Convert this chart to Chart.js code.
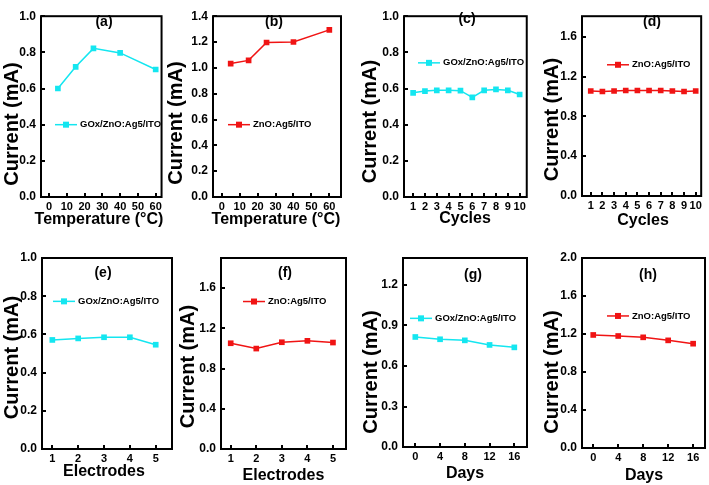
<!DOCTYPE html>
<html>
<head>
<meta charset="utf-8">
<script src="https://cdn.jsdelivr.net/npm/chart.js@4"></script>
<style>
  html, body { margin: 0; padding: 0; background: #fff; }
  #wrap { position: relative; width: 709px; height: 485px; overflow: hidden; }
  #wrap canvas { position: absolute; }
</style>
</head>
<body>
<div id="wrap"></div>
<script>
// data
const tempC = [5, 15, 25, 40, 60];
const tempGox = [0.60, 0.72, 0.822, 0.797, 0.705];
const tempZno = [1.033, 1.058, 1.196, 1.2, 1.294];

const cycles = [1, 2, 3, 4, 5, 6, 7, 8, 9, 10];
const cycGox = [0.576, 0.586, 0.59, 0.59, 0.588, 0.551, 0.59, 0.595, 0.59, 0.567];
const cycZno = [1.055, 1.05, 1.055, 1.06, 1.06, 1.06, 1.06, 1.055, 1.05, 1.055];

const electrodes = [1, 2, 3, 4, 5];
const elecGox = [0.571, 0.579, 0.585, 0.585, 0.546];
const elecZno = [1.052, 0.999, 1.062, 1.076, 1.059];

const days = [0, 4, 8, 12, 16];
const dayGox = [0.815, 0.798, 0.79, 0.756, 0.738];
const dayZno = [1.19, 1.179, 1.165, 1.133, 1.098];

// tick labels
const tempTicks = [0, 10, 20, 30, 40, 50, 60];
const cycleTicks = [1, 2, 3, 4, 5, 6, 7, 8, 9, 10];
const elecTicks = [1, 2, 3, 4, 5];
const dayTicks = [0, 4, 8, 12, 16];
const yTicks10 = [0, 0.2, 0.4, 0.6, 0.8, 1.0];
const yTicks14 = [0, 0.2, 0.4, 0.6, 0.8, 1.0, 1.2, 1.4];
const yTicks16 = [0, 0.4, 0.8, 1.2, 1.6];
const yTicks12 = [0, 0.3, 0.6, 0.9, 1.2];
const yTicks20 = [0, 0.4, 0.8, 1.2, 1.6, 2.0];

const goxName = 'GOx/ZnO:Ag5/ITO';
const znoName = 'ZnO:Ag5/ITO';
const CYAN = '#14e6f0';
const RED = '#f01414';
const FONT = '"Liberation Sans", Arial, sans-serif';

Chart.defaults.font.family = FONT;
Chart.defaults.font.weight = 'bold';
Chart.defaults.color = '#000';

const panels = [
  { tag: '(a)', L: 0, T: 0, W: 169, H: 240, plot: [41, 8, 165, 197],
    xs: tempC, ys: tempGox, color: CYAN, name: goxName,
    xMin: -4.5, xMax: 63.3, xTicks: tempTicks, yMax: 1.0, yTicks: yTicks10,
    xTitle: 'Temperature (°C)', xT: [99, 220], yT: [12, 124], tagXY: [104, 22], leg: [14, 0.4] },
  { tag: '(b)', L: 162, T: 0, W: 183, H: 240, plot: [213, 7, 341, 197],
    xs: tempC, ys: tempZno, color: RED, name: znoName,
    xMin: -4.85, xMax: 66.5, xTicks: tempTicks, yMax: 1.4, yTicks: yTicks14,
    xTitle: 'Temperature (°C)', xT: [276, 220], yT: [176, 123], tagXY: [274, 22], leg: [15, 0.56] },
  { tag: '(c)', L: 358, T: 0, W: 175, H: 240, plot: [404, 8, 529, 197],
    xs: cycles, ys: cycGox, color: CYAN, name: goxName,
    xMin: 0.23, xMax: 10.6, xTicks: cycleTicks, yMax: 1.0, yTicks: yTicks10,
    xTitle: 'Cycles', xT: [465, 219], yT: [370, 121.5], tagXY: [467, 19], leg: [14, 0.742] },
  { tag: '(d)', L: 540, T: 0, W: 169, H: 240, plot: [582, 6, 705, 196],
    xs: cycles, ys: cycZno, color: RED, name: znoName,
    xMin: 0.25, xMax: 10.47, xTicks: cycleTicks, yMax: 1.806, yTicks: yTicks16,
    xTitle: 'Cycles', xT: [643, 221], yT: [552, 119.5], tagXY: [652, 22], leg: [25, 1.318] },
  { tag: '(e)', L: 0, T: 240, W: 176, H: 245, plot: [42, 258, 172, 449],
    xs: electrodes, ys: elecGox, color: CYAN, name: goxName,
    xMin: 0.6, xMax: 5.63, xTicks: elecTicks, yMax: 1.0, yTicks: yTicks10,
    xTitle: 'Electrodes', xT: [104, 472], yT: [12, 357.5], tagXY: [103, 273], leg: [11, 0.773] },
  { tag: '(f)', L: 176, T: 240, W: 174, H: 245, plot: [221, 258, 346, 449],
    xs: electrodes, ys: elecZno, color: RED, name: znoName,
    xMin: 0.62, xMax: 5.51, xTicks: elecTicks, yMax: 1.9, yTicks: yTicks16,
    xTitle: 'Electrodes', xT: [283.5, 476], yT: [188, 366.5], tagXY: [285, 273], leg: [22, 1.467] },
  { tag: '(g)', L: 359, T: 240, W: 172, H: 245, plot: [403, 258, 527, 447],
    xs: days, ys: dayGox, color: CYAN, name: goxName,
    xMin: -1.99, xMax: 18.05, xTicks: dayTicks, yMax: 1.4, yTicks: yTicks12,
    xTitle: 'Days', xT: [465, 474], yT: [371, 372], tagXY: [473, 275], leg: [7, 0.953] },
  { tag: '(h)', L: 540, T: 240, W: 169, H: 245, plot: [582, 258, 705, 448],
    xs: days, ys: dayZno, color: RED, name: znoName,
    xMin: -1.8, xMax: 17.9, xTicks: dayTicks, yMax: 2.0, yTicks: yTicks20,
    xTitle: 'Days', xT: [644, 476], yT: [552, 372], tagXY: [648, 275], leg: [25, 1.39] }
];

// frame, panel tag, inner legend and axis titles
const framePlugin = {
  id: 'frame',
  afterDraw(chart, args, o) {
    const ctx = chart.ctx;
    const a = chart.chartArea;
    const p = o.panel;
    ctx.save();
    ctx.strokeStyle = '#000';
    ctx.lineWidth = 2;
    ctx.strokeRect(a.left, a.top, a.right - a.left, a.bottom - a.top);

    ctx.fillStyle = '#000';
    ctx.textAlign = 'center';
    ctx.textBaseline = 'middle';
    ctx.font = 'bold 14px ' + FONT;
    ctx.fillText(p.tag, p.tagXY[0] - p.L, p.tagXY[1] - p.T);

    // legend entry
    const ly = chart.scales.y.getPixelForValue(p.leg[1]);
    const lx = a.left + p.leg[0];
    ctx.strokeStyle = p.color;
    ctx.lineWidth = 1.5;
    ctx.beginPath();
    ctx.moveTo(lx, ly);
    ctx.lineTo(lx + 22, ly);
    ctx.stroke();
    ctx.fillStyle = p.color;
    ctx.fillRect(lx + 8, ly - 3, 6, 6);
    ctx.fillStyle = '#000';
    ctx.textAlign = 'left';
    ctx.font = 'bold 9.5px ' + FONT;
    ctx.fillText(p.name, lx + 25, ly);

    // axis titles
    ctx.textAlign = 'center';
    ctx.font = 'bold 16px ' + FONT;
    ctx.fillText(p.xTitle, p.xT[0] - p.L, p.xT[1] - p.T);
    ctx.translate(p.yT[0] - p.L, p.yT[1] - p.T);
    ctx.rotate(-Math.PI / 2);
    ctx.font = 'bold 20px ' + FONT;
    ctx.fillText('Current (mA)', 0, 0);
    ctx.restore();
  }
};

const wrap = document.getElementById('wrap');

panels.forEach(p => {
  const cv = document.createElement('canvas');
  cv.width = p.W;
  cv.height = p.H;
  cv.style.left = p.L + 'px';
  cv.style.top = p.T + 'px';
  cv.style.width = p.W + 'px';
  cv.style.height = p.H + 'px';
  wrap.appendChild(cv);

  const [px0, py0, px1, py1] = p.plot;
  const yw = px0 - p.L;
  const xh = p.T + p.H - py1;

  new Chart(cv.getContext('2d'), {
    type: 'line',
    data: {
      datasets: [{
        label: p.name,
        data: p.xs.map((x, i) => ({ x: x, y: p.ys[i] })),
        borderColor: p.color,
        backgroundColor: p.color,
        borderWidth: 1.5,
        pointStyle: 'rect',
        pointRadius: 4,
        pointBorderWidth: 0,
        pointBackgroundColor: p.color,
        tension: 0
      }]
    },
    options: {
      responsive: false,
      animation: false,
      layout: { padding: { left: 0, bottom: 0, top: py0 - p.T, right: p.L + p.W - px1 } },
      scales: {
        x: {
          type: 'linear',
          min: p.xMin,
          max: p.xMax,
          afterBuildTicks: s => { s.ticks = p.xTicks.map(v => ({ value: v })); },
          afterFit: s => { s.height = xh; },
          grid: { display: true, drawOnChartArea: false, drawTicks: true, tickLength: -4, color: '#000', lineWidth: 2 },
          border: { display: false },
          ticks: {
            autoSkip: false, maxRotation: 0, padding: 7,
            font: { size: 11, weight: 'bold' },
            callback: v => String(v)
          }
        },
        y: {
          type: 'linear',
          min: 0,
          max: p.yMax,
          afterBuildTicks: s => { s.ticks = p.yTicks.map(v => ({ value: v })); },
          afterFit: s => { s.width = yw; },
          grid: { display: true, drawOnChartArea: false, drawTicks: true, tickLength: -4, color: '#000', lineWidth: 2 },
          border: { display: false },
          ticks: {
            autoSkip: false, padding: 9,
            font: { size: 12, weight: 'bold' },
            callback: v => v.toFixed(1)
          }
        }
      },
      plugins: {
        legend: { display: false },
        tooltip: { enabled: false },
        frame: { panel: p }
      }
    },
    plugins: [framePlugin]
  });
});
</script>
</body>
</html>
